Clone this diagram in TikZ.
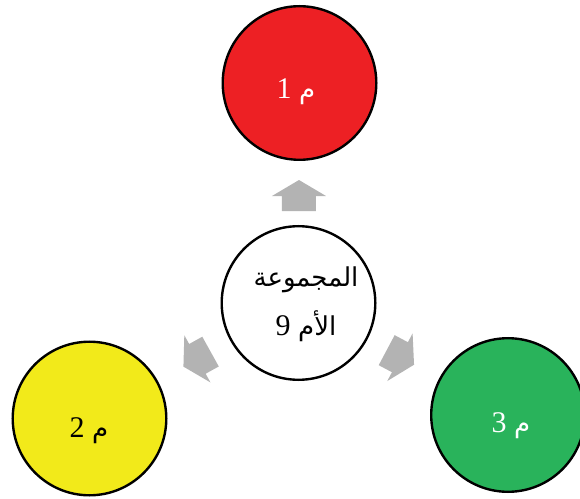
\documentclass[tikz,border=0pt]{standalone}
\usepackage{fontspec}
\setmainfont{Liberation Serif}
\newfontfamily\arabicfont[Script=Arabic]{DejaVu Sans}
\TeXXeTstate=1
\usetikzlibrary{calc}
\definecolor{cred}{HTML}{ED2024}
\definecolor{cyellow}{HTML}{F2EA1A}
\definecolor{cgreen}{HTML}{29B35B}
\definecolor{agray}{HTML}{B3B3B3}
\newcommand{\arb}[1]{{\arabicfont\fontsize{26}{30}\selectfont #1}}
\begin{document}
\begin{tikzpicture}[x=1pt,y=1pt,
  ball/.style={circle,draw=black,line width=2.4pt,minimum size=153.6pt,inner sep=0pt},
  lbl/.style={anchor=base,inner sep=0pt,font=\fontsize{30}{36}\selectfont},
  fatarrow/.pic={\fill[agray] (-15.5,-17) -- (-0.5,-17) -- (-0.5,-27) -- (15.5,0) -- (-0.5,27) -- (-0.5,17) -- (-15.5,17) -- cycle;}
]
\useasboundingbox (0,0) rectangle (580,498);
\node[ball,fill=white] (m) at (298.5,195) {};
\node[ball,fill=cred] (s1) at (299.5,415) {};
\node[ball,fill=cyellow] (s2) at (89.5,79.5) {};
\node[ball,fill=cgreen] (s3) at (508,83) {};
\node[lbl,text=white] (t1) at (296,399) {\beginR\arb{م} 1\endR};
\node[lbl,text=black] (t2) at (89,61) {\beginR\arb{م} 2\endR};
\node[lbl,text=white] (t3) at (511,66) {\beginR\arb{م} 3\endR};
\node[lbl] (c1) at (306,211) {\beginR\arb{المجموعة}\endR};
\node[lbl] (c2) at (306,163) {\beginR\arb{الأم} 9\endR};
\pic[rotate=90] at ($(m)!107.5pt!(s1)$) {fatarrow};
\pic[rotate=209] at ($(m)!116pt!(s2)$) {fatarrow};
\pic[rotate=-28] at ($(m)!115.5pt!(s3)$) {fatarrow};
\end{tikzpicture}
\end{document}
